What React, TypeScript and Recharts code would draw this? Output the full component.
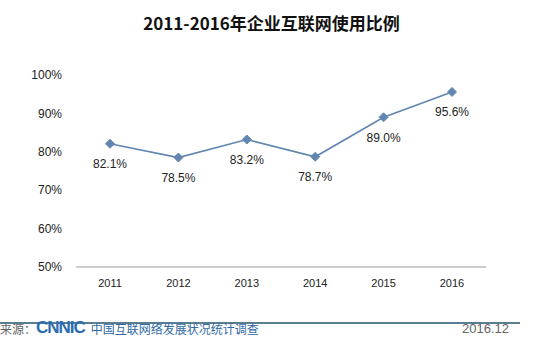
import React from 'react';
import { LineChart, Line, XAxis, YAxis, LabelList } from 'recharts';

const years = ['2011', '2012', '2013', '2014', '2015', '2016'];
const usage = [82.1, 78.5, 83.2, 78.7, 89.0, 95.6];
const yTicks = [50, 60, 70, 80, 90, 100];

const data = years.map((year, i) => ({ year, usage: usage[i] }));

const LINE = '#6286b2';

const Diamond = (props: any) => {
  const { cx, cy } = props;
  if (cx == null || cy == null) return null;
  const r = 4.5;
  return (
    <polygon
      points={`${cx},${cy - r} ${cx + r},${cy} ${cx},${cy + r} ${cx - r},${cy}`}
      fill={LINE}
      stroke={LINE}
    />
  );
};

export default function App() {
  return (
    <div style={{ position: 'absolute', left: 0, top: 0, width: 543, height: 340, background: '#fff', overflow: 'hidden' }}>
      <div
        style={{
          position: 'absolute', top: 10, left: 0, width: 543, textAlign: 'center',
          fontFamily: '"Noto Sans CJK SC", "Liberation Sans", sans-serif', fontWeight: 700,
          fontSize: 17, color: '#111',
        }}
      >
        2011-2016年企业互联网使用比例
      </div>
      <LineChart width={543} height={340} data={data} margin={{ top: 75, right: 57, bottom: 43, left: 0 }}>
        <XAxis
          dataKey="year"
          height={30}
          padding={{ left: 34, right: 34 }}
          axisLine={{ stroke: '#999' }}
          tickLine={false}
          tick={{ fontSize: 11, fill: '#222', fontFamily: 'Liberation Sans, Arial, sans-serif' }}
          tickMargin={6}
        />
        <YAxis
          width={76}
          domain={[50, 100]}
          ticks={yTicks}
          axisLine={false}
          tickLine={false}
          tickMargin={8}
          tickFormatter={(v: number) => `${v}%`}
          tick={{ fontSize: 12, fill: '#222', fontFamily: 'Liberation Sans, Arial, sans-serif' }}
        />
        <Line
          type="linear"
          dataKey="usage"
          stroke={LINE}
          strokeWidth={1.6}
          dot={<Diamond />}
          isAnimationActive={false}
        >
          <LabelList
            dataKey="usage"
            position="bottom"
            offset={16}
            formatter={(v: any) => `${Number(v).toFixed(1)}%`}
            style={{ fontSize: 12, fill: '#222', fontFamily: 'Liberation Sans, Arial, sans-serif' }}
          />
        </Line>
      </LineChart>
      <div style={{ position: 'absolute', left: 0, top: 322, width: 520, height: 1.5, background: '#5b7d92' }} />
      <div
        style={{
          position: 'absolute', left: 0, top: 318, height: 20, display: 'flex', alignItems: 'center',
          fontFamily: '"Noto Sans CJK SC", sans-serif', fontSize: 12,
        }}
      >
        <span style={{ color: '#666' }}>来源：</span>
        <span style={{ color: '#2b6cb0', fontWeight: 900, fontSize: 17, fontFamily: '"Liberation Sans", Arial, sans-serif', letterSpacing: -1, marginRight: 6 }}>
          CNNIC
        </span>
        <span style={{ color: '#2f6aa6' }}>中国互联网络发展状况统计调查</span>
      </div>
      <div
        style={{
          position: 'absolute', right: 34, top: 318, height: 20, display: 'flex', alignItems: 'center',
          fontFamily: '"Liberation Sans", Arial, sans-serif', fontSize: 13, color: '#666',
        }}
      >
        2016.12
      </div>
    </div>
  );
}
